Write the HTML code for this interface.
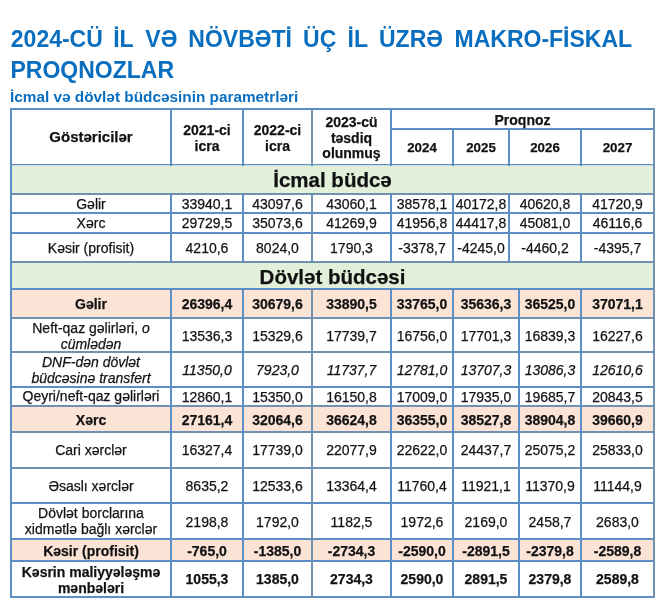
<!DOCTYPE html>
<html><head><meta charset="utf-8"><style>
html,body{margin:0;padding:0;background:#fff;}
body{width:663px;height:609px;position:relative;overflow:hidden;will-change:transform;font-family:"Liberation Sans",sans-serif;color:#000;}
div{position:absolute;}
.c{-webkit-text-stroke:0.25px #1a1a22;color:#111;display:flex;align-items:center;justify-content:center;text-align:center;font-size:14px;line-height:16px;}
.b{font-weight:bold;}
.h{line-height:15.7px;}
.gs{font-size:15px;}
.big{font-size:20.5px;}
.yr{font-size:13.3px;}
.t{position:absolute;font-weight:bold;font-size:23px;line-height:27px;color:#0a6ebf;white-space:nowrap;}
.st{position:absolute;font-weight:bold;font-size:15.35px;line-height:18px;color:#0a6ebf;white-space:nowrap;}
</style></head><body>
<span class="t" style="left:10.8px;top:25.5px">2024-CÜ</span>
<span class="t" style="left:113.2px;top:25.5px">İL</span>
<span class="t" style="left:145.3px;top:25.5px">VƏ</span>
<span class="t" style="left:188.3px;top:25.5px">NÖVBƏTİ</span>
<span class="t" style="left:303.1px;top:25.5px">ÜÇ</span>
<span class="t" style="left:347.5px;top:25.5px">İL</span>
<span class="t" style="left:379.0px;top:25.5px">ÜZRƏ</span>
<span class="t" style="left:454.5px;top:25.5px">MAKRO-FİSKAL</span>
<span class="t" style="left:10.5px;top:57.3px">PROQNOZLAR</span>
<span class="st" style="left:10px;top:87.8px">İcmal və dövlət büdcəsinin parametrləri</span>
<div style="left:10px;top:164px;width:645px;height:29px;background:#e2efd9"></div>
<div style="left:10px;top:261px;width:645px;height:27px;background:#e2efd9"></div>
<div style="left:10px;top:288px;width:645px;height:29px;background:#fbe4d5"></div>
<div style="left:10px;top:405px;width:645px;height:26px;background:#fbe4d5"></div>
<div style="left:10px;top:538px;width:645px;height:22px;background:#fbe4d5"></div>
<div style="left:10px;top:164px;width:645px;height:1px;background:#6a8cb0"></div>
<div style="left:10px;top:165px;width:645px;height:1px;background:#c4e0ea"></div>
<div style="left:10px;top:108px;width:645px;height:2px;background:#5c8ec8"></div>
<div style="left:10px;top:193px;width:645px;height:2px;background:#7091b2"></div>
<div style="left:10px;top:212px;width:645px;height:2px;background:#5c8ec8"></div>
<div style="left:10px;top:232px;width:645px;height:2px;background:#5c8ec8"></div>
<div style="left:10px;top:261px;width:645px;height:2px;background:#7091b2"></div>
<div style="left:10px;top:288px;width:645px;height:2px;background:#5c8ec8"></div>
<div style="left:10px;top:317px;width:645px;height:2px;background:#7091b2"></div>
<div style="left:10px;top:351px;width:645px;height:2px;background:#7091b2"></div>
<div style="left:10px;top:386px;width:645px;height:2px;background:#5c8ec8"></div>
<div style="left:10px;top:405px;width:645px;height:2px;background:#7091b2"></div>
<div style="left:10px;top:431px;width:645px;height:2px;background:#7091b2"></div>
<div style="left:10px;top:467px;width:645px;height:2px;background:#7091b2"></div>
<div style="left:10px;top:502px;width:645px;height:2px;background:#5c8ec8"></div>
<div style="left:10px;top:538px;width:645px;height:2px;background:#5c8ec8"></div>
<div style="left:10px;top:560px;width:645px;height:2px;background:#5c8ec8"></div>
<div style="left:10px;top:596px;width:645px;height:2px;background:#5c8ec8"></div>
<div style="left:390px;top:128px;width:265px;height:2px;background:#5c8ec8"></div>
<div style="left:10px;top:108px;width:2px;height:490px;background:#5c8ec8"></div>
<div style="left:653px;top:108px;width:2px;height:490px;background:#7091b2"></div>
<div style="left:170px;top:108px;width:2px;height:58px;background:#5c8ec8"></div>
<div style="left:242px;top:108px;width:2px;height:58px;background:#5c8ec8"></div>
<div style="left:311px;top:108px;width:2px;height:58px;background:#7091b2"></div>
<div style="left:390px;top:108px;width:2px;height:58px;background:#5c8ec8"></div>
<div style="left:452px;top:128px;width:2px;height:38px;background:#5c8ec8"></div>
<div style="left:508px;top:128px;width:2px;height:38px;background:#5c8ec8"></div>
<div style="left:580px;top:128px;width:2px;height:38px;background:#5c8ec8"></div>
<div style="left:170px;top:193px;width:2px;height:70px;background:#5c8ec8"></div>
<div style="left:242px;top:193px;width:2px;height:70px;background:#5c8ec8"></div>
<div style="left:311px;top:193px;width:2px;height:70px;background:#7091b2"></div>
<div style="left:390px;top:193px;width:2px;height:70px;background:#5c8ec8"></div>
<div style="left:452px;top:193px;width:2px;height:70px;background:#5c8ec8"></div>
<div style="left:508px;top:193px;width:2px;height:70px;background:#5c8ec8"></div>
<div style="left:580px;top:193px;width:2px;height:70px;background:#5c8ec8"></div>
<div style="left:170px;top:288px;width:2px;height:310px;background:#5c8ec8"></div>
<div style="left:242px;top:288px;width:2px;height:310px;background:#5c8ec8"></div>
<div style="left:311px;top:288px;width:2px;height:310px;background:#7091b2"></div>
<div style="left:390px;top:288px;width:2px;height:310px;background:#5c8ec8"></div>
<div style="left:452px;top:288px;width:2px;height:310px;background:#5c8ec8"></div>
<div style="left:518px;top:288px;width:2px;height:310px;background:#5c8ec8"></div>
<div style="left:580px;top:288px;width:2px;height:310px;background:#5c8ec8"></div>
<div class="c b gs" style="left:12px;top:110px;width:158px;height:54px;"><span>Göstəricilər</span></div>
<div class="c b h" style="left:172px;top:110px;width:70px;height:54px;"><span style="position:relative;top:2px;left:0px">2021-ci<br>icra</span></div>
<div class="c b h" style="left:244px;top:110px;width:67px;height:54px;"><span style="position:relative;top:2px;left:0px">2022-ci<br>icra</span></div>
<div class="c b h" style="left:313px;top:110px;width:77px;height:54px;"><span style="position:relative;top:1.5px;left:0px">2023-cü<br>təsdiq<br>olunmuş</span></div>
<div class="c b" style="left:392px;top:110px;width:261px;height:18px;"><span style="position:relative;top:1px;left:0px">Proqnoz</span></div>
<div class="c b yr" style="left:392px;top:130px;width:60px;height:34px;"><span style="position:relative;top:1px;left:0px">2024</span></div>
<div class="c b yr" style="left:454px;top:130px;width:54px;height:34px;"><span style="position:relative;top:1px;left:0px">2025</span></div>
<div class="c b yr" style="left:510px;top:130px;width:70px;height:34px;"><span style="position:relative;top:1px;left:0px">2026</span></div>
<div class="c b yr" style="left:582px;top:130px;width:71px;height:34px;"><span style="position:relative;top:1px;left:0px">2027</span></div>
<div class="c b big" style="left:12px;top:166px;width:641px;height:27px;"><span>İcmal büdcə</span></div>
<div class="c b big" style="left:12px;top:263px;width:641px;height:25px;"><span style="position:relative;top:1px;left:0px">Dövlət büdcəsi</span></div>
<div class="c " style="left:12px;top:195px;width:158px;height:17px;"><span>Gəlir</span></div>
<div class="c " style="left:172px;top:195px;width:70px;height:17px;"><span>33940,1</span></div>
<div class="c " style="left:244px;top:195px;width:67px;height:17px;"><span>43097,6</span></div>
<div class="c " style="left:313px;top:195px;width:77px;height:17px;"><span>43060,1</span></div>
<div class="c " style="left:392px;top:195px;width:60px;height:17px;"><span>38578,1</span></div>
<div class="c " style="left:454px;top:195px;width:54px;height:17px;"><span>40172,8</span></div>
<div class="c " style="left:510px;top:195px;width:70px;height:17px;"><span>40620,8</span></div>
<div class="c " style="left:582px;top:195px;width:71px;height:17px;"><span>41720,9</span></div>
<div class="c " style="left:12px;top:214px;width:158px;height:18px;"><span>Xərc</span></div>
<div class="c " style="left:172px;top:214px;width:70px;height:18px;"><span>29729,5</span></div>
<div class="c " style="left:244px;top:214px;width:67px;height:18px;"><span>35073,6</span></div>
<div class="c " style="left:313px;top:214px;width:77px;height:18px;"><span>41269,9</span></div>
<div class="c " style="left:392px;top:214px;width:60px;height:18px;"><span>41956,8</span></div>
<div class="c " style="left:454px;top:214px;width:54px;height:18px;"><span>44417,8</span></div>
<div class="c " style="left:510px;top:214px;width:70px;height:18px;"><span>45081,0</span></div>
<div class="c " style="left:582px;top:214px;width:71px;height:18px;"><span>46116,6</span></div>
<div class="c " style="left:12px;top:234px;width:158px;height:27px;"><span>Kəsir (profisit)</span></div>
<div class="c " style="left:172px;top:234px;width:70px;height:27px;"><span>4210,6</span></div>
<div class="c " style="left:244px;top:234px;width:67px;height:27px;"><span>8024,0</span></div>
<div class="c " style="left:313px;top:234px;width:77px;height:27px;"><span>1790,3</span></div>
<div class="c " style="left:392px;top:234px;width:60px;height:27px;"><span>-3378,7</span></div>
<div class="c " style="left:454px;top:234px;width:54px;height:27px;"><span>-4245,0</span></div>
<div class="c " style="left:510px;top:234px;width:70px;height:27px;"><span>-4460,2</span></div>
<div class="c " style="left:582px;top:234px;width:71px;height:27px;"><span>-4395,7</span></div>
<div class="c b h" style="left:12px;top:290px;width:158px;height:27px;"><span style="position:relative;top:1px;left:0px">Gəlir</span></div>
<div class="c b" style="left:172px;top:290px;width:70px;height:27px;"><span style="position:relative;top:0.5px;left:0px">26396,4</span></div>
<div class="c b" style="left:244px;top:290px;width:67px;height:27px;"><span style="position:relative;top:0.5px;left:0px">30679,6</span></div>
<div class="c b" style="left:313px;top:290px;width:77px;height:27px;"><span style="position:relative;top:0.5px;left:0px">33890,5</span></div>
<div class="c b" style="left:392px;top:290px;width:60px;height:27px;"><span style="position:relative;top:0.5px;left:0px">33765,0</span></div>
<div class="c b" style="left:454px;top:290px;width:64px;height:27px;"><span style="position:relative;top:0.5px;left:0px">35636,3</span></div>
<div class="c b" style="left:520px;top:290px;width:60px;height:27px;"><span style="position:relative;top:0.5px;left:0px">36525,0</span></div>
<div class="c b" style="left:582px;top:290px;width:71px;height:27px;"><span style="position:relative;top:0.5px;left:0px">37071,1</span></div>
<div class="c  h" style="left:12px;top:319px;width:158px;height:32px;"><span style="position:relative;top:1.6px;left:0px">Neft-qaz gəlirləri, <i>o<br>cümlədən</i></span></div>
<div class="c " style="left:172px;top:319px;width:70px;height:32px;"><span style="position:relative;top:1px;left:0px">13536,3</span></div>
<div class="c " style="left:244px;top:319px;width:67px;height:32px;"><span style="position:relative;top:1px;left:0px">15329,6</span></div>
<div class="c " style="left:313px;top:319px;width:77px;height:32px;"><span style="position:relative;top:1px;left:0px">17739,7</span></div>
<div class="c " style="left:392px;top:319px;width:60px;height:32px;"><span style="position:relative;top:1px;left:0px">16756,0</span></div>
<div class="c " style="left:454px;top:319px;width:64px;height:32px;"><span style="position:relative;top:1px;left:0px">17701,3</span></div>
<div class="c " style="left:520px;top:319px;width:60px;height:32px;"><span style="position:relative;top:1px;left:0px">16839,3</span></div>
<div class="c " style="left:582px;top:319px;width:71px;height:32px;"><span style="position:relative;top:1px;left:0px">16227,6</span></div>
<div class="c  h" style="left:12px;top:353px;width:158px;height:33px;"><span style="position:relative;top:1.3px;left:0px"><i>DNF-dən dövlət<br>büdcəsinə transfert</i></span></div>
<div class="c " style="left:172px;top:353px;width:70px;height:33px;"><span style="position:relative;top:0.5px;left:0px"><i>11350,0</i></span></div>
<div class="c " style="left:244px;top:353px;width:67px;height:33px;"><span style="position:relative;top:0.5px;left:0px"><i>7923,0</i></span></div>
<div class="c " style="left:313px;top:353px;width:77px;height:33px;"><span style="position:relative;top:0.5px;left:0px"><i>11737,7</i></span></div>
<div class="c " style="left:392px;top:353px;width:60px;height:33px;"><span style="position:relative;top:0.5px;left:0px"><i>12781,0</i></span></div>
<div class="c " style="left:454px;top:353px;width:64px;height:33px;"><span style="position:relative;top:0.5px;left:0px"><i>13707,3</i></span></div>
<div class="c " style="left:520px;top:353px;width:60px;height:33px;"><span style="position:relative;top:0.5px;left:0px"><i>13086,3</i></span></div>
<div class="c " style="left:582px;top:353px;width:71px;height:33px;"><span style="position:relative;top:0.5px;left:0px"><i>12610,6</i></span></div>
<div class="c  h" style="left:12px;top:388px;width:158px;height:17px;"><span>Qeyri/neft-qaz gəlirləri</span></div>
<div class="c " style="left:172px;top:388px;width:70px;height:17px;"><span>12860,1</span></div>
<div class="c " style="left:244px;top:388px;width:67px;height:17px;"><span>15350,0</span></div>
<div class="c " style="left:313px;top:388px;width:77px;height:17px;"><span>16150,8</span></div>
<div class="c " style="left:392px;top:388px;width:60px;height:17px;"><span>17009,0</span></div>
<div class="c " style="left:454px;top:388px;width:64px;height:17px;"><span>17935,0</span></div>
<div class="c " style="left:520px;top:388px;width:60px;height:17px;"><span>19685,7</span></div>
<div class="c " style="left:582px;top:388px;width:71px;height:17px;"><span>20843,5</span></div>
<div class="c b h" style="left:12px;top:407px;width:158px;height:24px;"><span style="position:relative;top:2px;left:0px">Xərc</span></div>
<div class="c b" style="left:172px;top:407px;width:70px;height:24px;"><span style="position:relative;top:1px;left:0px">27161,4</span></div>
<div class="c b" style="left:244px;top:407px;width:67px;height:24px;"><span style="position:relative;top:1px;left:0px">32064,6</span></div>
<div class="c b" style="left:313px;top:407px;width:77px;height:24px;"><span style="position:relative;top:1px;left:0px">36624,8</span></div>
<div class="c b" style="left:392px;top:407px;width:60px;height:24px;"><span style="position:relative;top:1px;left:0px">36355,0</span></div>
<div class="c b" style="left:454px;top:407px;width:64px;height:24px;"><span style="position:relative;top:1px;left:0px">38527,8</span></div>
<div class="c b" style="left:520px;top:407px;width:60px;height:24px;"><span style="position:relative;top:1px;left:0px">38904,8</span></div>
<div class="c b" style="left:582px;top:407px;width:71px;height:24px;"><span style="position:relative;top:1px;left:0px">39660,9</span></div>
<div class="c  h" style="left:12px;top:433px;width:158px;height:34px;"><span style="position:relative;top:1px;left:0px">Cari xərclər</span></div>
<div class="c " style="left:172px;top:433px;width:70px;height:34px;"><span>16327,4</span></div>
<div class="c " style="left:244px;top:433px;width:67px;height:34px;"><span>17739,0</span></div>
<div class="c " style="left:313px;top:433px;width:77px;height:34px;"><span>22077,9</span></div>
<div class="c " style="left:392px;top:433px;width:60px;height:34px;"><span>22622,0</span></div>
<div class="c " style="left:454px;top:433px;width:64px;height:34px;"><span>24437,7</span></div>
<div class="c " style="left:520px;top:433px;width:60px;height:34px;"><span>25075,2</span></div>
<div class="c " style="left:582px;top:433px;width:71px;height:34px;"><span>25833,0</span></div>
<div class="c  h" style="left:12px;top:469px;width:158px;height:33px;"><span style="position:relative;top:1px;left:0px">Əsaslı xərclər</span></div>
<div class="c " style="left:172px;top:469px;width:70px;height:33px;"><span>8635,2</span></div>
<div class="c " style="left:244px;top:469px;width:67px;height:33px;"><span>12533,6</span></div>
<div class="c " style="left:313px;top:469px;width:77px;height:33px;"><span>13364,4</span></div>
<div class="c " style="left:392px;top:469px;width:60px;height:33px;"><span>11760,4</span></div>
<div class="c " style="left:454px;top:469px;width:64px;height:33px;"><span>11921,1</span></div>
<div class="c " style="left:520px;top:469px;width:60px;height:33px;"><span>11370,9</span></div>
<div class="c " style="left:582px;top:469px;width:71px;height:33px;"><span>11144,9</span></div>
<div class="c  h" style="left:12px;top:504px;width:158px;height:34px;"><span style="position:relative;top:1px;left:0px">Dövlət borclarına<br>xidmətlə bağlı xərclər</span></div>
<div class="c " style="left:172px;top:504px;width:70px;height:34px;"><span style="position:relative;top:1px;left:0px">2198,8</span></div>
<div class="c " style="left:244px;top:504px;width:67px;height:34px;"><span style="position:relative;top:1px;left:0px">1792,0</span></div>
<div class="c " style="left:313px;top:504px;width:77px;height:34px;"><span style="position:relative;top:1px;left:0px">1182,5</span></div>
<div class="c " style="left:392px;top:504px;width:60px;height:34px;"><span style="position:relative;top:1px;left:0px">1972,6</span></div>
<div class="c " style="left:454px;top:504px;width:64px;height:34px;"><span style="position:relative;top:1px;left:0px">2169,0</span></div>
<div class="c " style="left:520px;top:504px;width:60px;height:34px;"><span style="position:relative;top:1px;left:0px">2458,7</span></div>
<div class="c " style="left:582px;top:504px;width:71px;height:34px;"><span style="position:relative;top:1px;left:0px">2683,0</span></div>
<div class="c b h" style="left:12px;top:540px;width:158px;height:20px;"><span style="position:relative;top:2px;left:0px">Kəsir (profisit)</span></div>
<div class="c b" style="left:172px;top:540px;width:70px;height:20px;"><span style="position:relative;top:1px;left:0px">-765,0</span></div>
<div class="c b" style="left:244px;top:540px;width:67px;height:20px;"><span style="position:relative;top:1px;left:0px">-1385,0</span></div>
<div class="c b" style="left:313px;top:540px;width:77px;height:20px;"><span style="position:relative;top:1px;left:0px">-2734,3</span></div>
<div class="c b" style="left:392px;top:540px;width:60px;height:20px;"><span style="position:relative;top:1px;left:0px">-2590,0</span></div>
<div class="c b" style="left:454px;top:540px;width:64px;height:20px;"><span style="position:relative;top:1px;left:0px">-2891,5</span></div>
<div class="c b" style="left:520px;top:540px;width:60px;height:20px;"><span style="position:relative;top:1px;left:0px">-2379,8</span></div>
<div class="c b" style="left:582px;top:540px;width:71px;height:20px;"><span style="position:relative;top:1px;left:0px">-2589,8</span></div>
<div class="c b h" style="left:12px;top:562px;width:158px;height:34px;"><span style="position:relative;top:1.5px;left:0px">Kəsrin maliyyələşmə<br>mənbələri</span></div>
<div class="c b" style="left:172px;top:562px;width:70px;height:34px;"><span>1055,3</span></div>
<div class="c b" style="left:244px;top:562px;width:67px;height:34px;"><span>1385,0</span></div>
<div class="c b" style="left:313px;top:562px;width:77px;height:34px;"><span>2734,3</span></div>
<div class="c b" style="left:392px;top:562px;width:60px;height:34px;"><span>2590,0</span></div>
<div class="c b" style="left:454px;top:562px;width:64px;height:34px;"><span>2891,5</span></div>
<div class="c b" style="left:520px;top:562px;width:60px;height:34px;"><span>2379,8</span></div>
<div class="c b" style="left:582px;top:562px;width:71px;height:34px;"><span>2589,8</span></div>
</body></html>
